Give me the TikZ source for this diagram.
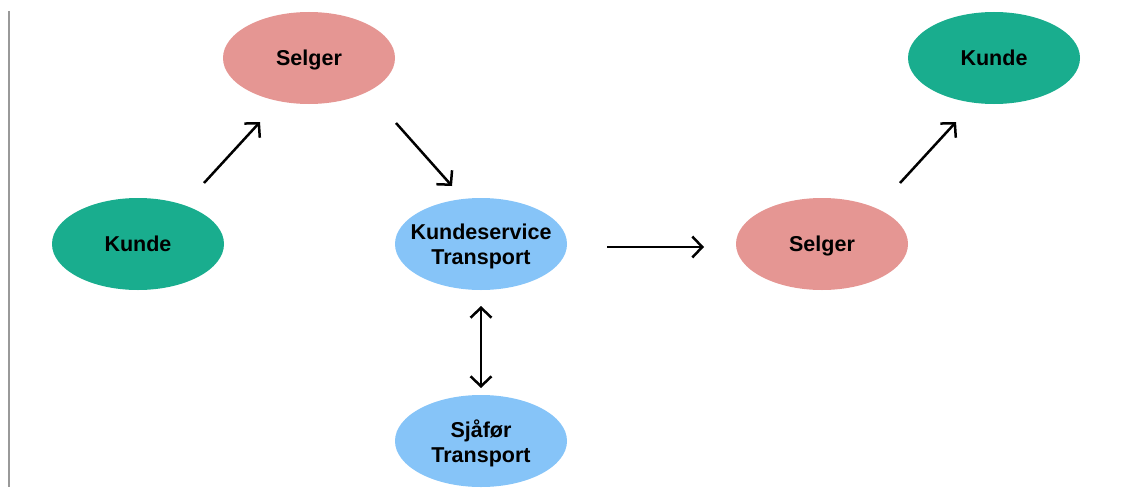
\documentclass[tikz,border=0pt]{standalone}
\usepackage{fontspec}
\setmainfont{Liberation Sans}
\usetikzlibrary{arrows.meta,shapes.geometric}
\definecolor{pinkfill}{HTML}{E59693}
\definecolor{greenfill}{HTML}{19AD8E}
\definecolor{bluefill}{HTML}{86C4F8}
\definecolor{railgray}{HTML}{999999}
\begin{document}
\begin{tikzpicture}[x=1pt,y=-1pt,
  bubble/.style={ellipse, minimum width=172pt, minimum height=92pt, inner sep=-40pt,
    text depth=0pt, font=\fontsize{21.5}{25}\selectfont\bfseries, align=center},
  seller/.style={bubble, fill=pinkfill},
  customer/.style={bubble, fill=greenfill},
  service/.style={bubble, fill=bluefill},
  barb/.tip={Straight Barb[length=10pt,width=21pt,line width=2.5pt]},
  flow/.style={line width=2.5pt, -barb},
  bothflow/.style={line width=2.5pt, barb-barb}
]
\useasboundingbox (0,0) rectangle (1123,487);
\draw[railgray, line width=2.5pt] (9,11) -- (9,487);

\node[seller]   (selgerA)  at (309,58)  {Selger};
\node[customer] (kundeA)   at (138,244) {Kunde};
\node[service]  (ks)       at (481,244) {Kundeservice\\Transport};
\node[seller]   (selgerB)  at (822,244) {Selger};
\node[customer] (kundeB)   at (994,58)  {Kunde};
\node[service]  (sjafor)   at (481,441) {Sjåfør\\Transport};

\coordinate (a1s) at (204,183); \coordinate (a1e) at (260,122);
\coordinate (a2s) at (396,123); \coordinate (a2e) at (452,186);
\coordinate (a3s) at (607,247); \coordinate (a3e) at (704,247);
\coordinate (a4s) at (481,306); \coordinate (a4e) at (481,388);
\coordinate (a5s) at (900,183); \coordinate (a5e) at (956,122);

\draw[flow] (a1s) -- (a1e);
\draw[flow] (a2s) -- (a2e);
\draw[flow] (a3s) -- (a3e);
\draw[bothflow] (a4s) -- (a4e);
\draw[flow] (a5s) -- (a5e);
\end{tikzpicture}
\end{document}
